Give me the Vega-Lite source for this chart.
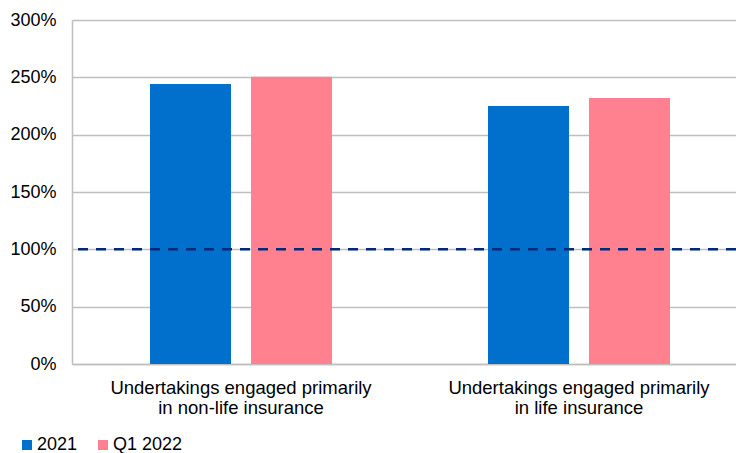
{
  "$schema": "https://vega.github.io/schema/vega-lite/v6.json",
  "width": 664,
  "height": 344,
  "autosize": "none",
  "padding": {"left": 72, "top": 20, "right": 0, "bottom": 89},
  "config": {
    "view": {"stroke": null},
    "font": "Liberation Sans",
    "axis": {"labelFont": "Liberation Sans", "labelColor": "#000000"},
    "legend": {"labelFont": "Liberation Sans"}
  },
  "layer": [
    {
      "data": {
        "values": [
          {"category": "nonlife", "series": "2021", "value": 2.442},
          {"category": "nonlife", "series": "Q1 2022", "value": 2.506},
          {"category": "life", "series": "2021", "value": 2.25},
          {"category": "life", "series": "Q1 2022", "value": 2.32}
        ]
      },
      "mark": {"type": "bar"},
      "encoding": {
        "x": {
          "field": "category",
          "type": "nominal",
          "sort": ["nonlife", "life"],
          "scale": {"range": [0, 676], "paddingInner": 0.4615, "paddingOuter": 0.2308},
          "axis": {
            "title": null,
            "ticks": false,
            "domain": true,
            "domainColor": "#BFBFBF",
            "domainWidth": 1.5,
            "labelAngle": 0,
            "labelFontSize": 18.5,
            "labelLimit": 0,
            "labelPadding": 14,
            "labelLineHeight": 20,
            "labelBaseline": "top",
            "labelExpr": "datum.value == 'nonlife' ? ['Undertakings engaged primarily', 'in non-life insurance'] : ['Undertakings engaged primarily', 'in life insurance']"
          }
        },
        "xOffset": {
          "field": "series",
          "type": "nominal",
          "scale": {"paddingInner": 0.198, "paddingOuter": 0}
        },
        "y": {
          "field": "value",
          "type": "quantitative",
          "scale": {"domain": [0, 3], "nice": false},
          "axis": {
            "title": null,
            "values": [0, 0.5, 1, 1.5, 2, 2.5, 3],
            "format": ".0%",
            "ticks": false,
            "domain": true,
            "domainColor": "#BFBFBF",
            "domainWidth": 1.5,
            "grid": true,
            "gridColor": "#BFBFBF",
            "gridWidth": 1.3,
            "labelFontSize": 18,
            "labelPadding": 16
          }
        },
        "color": {
          "field": "series",
          "type": "nominal",
          "scale": {"domain": ["2021", "Q1 2022"], "range": ["#0070CC", "#FF808E"]},
          "legend": {
            "title": null,
            "orient": "none",
            "direction": "horizontal",
            "legendX": -54,
            "legendY": 416,
            "symbolType": "square",
            "symbolSize": 100,
            "symbolStrokeWidth": 0,
            "labelFontSize": 18,
            "labelOffset": 1,
            "columnPadding": 16,
            "labelColor": "#000000"
          }
        }
      }
    },
    {
      "data": {"values": [{"threshold": 1}]},
      "mark": {"type": "rule", "color": "#00297A", "strokeWidth": 2.5, "strokeDash": [10, 8]},
      "encoding": {
        "y": {"field": "threshold", "type": "quantitative"}
      }
    }
  ]
}
